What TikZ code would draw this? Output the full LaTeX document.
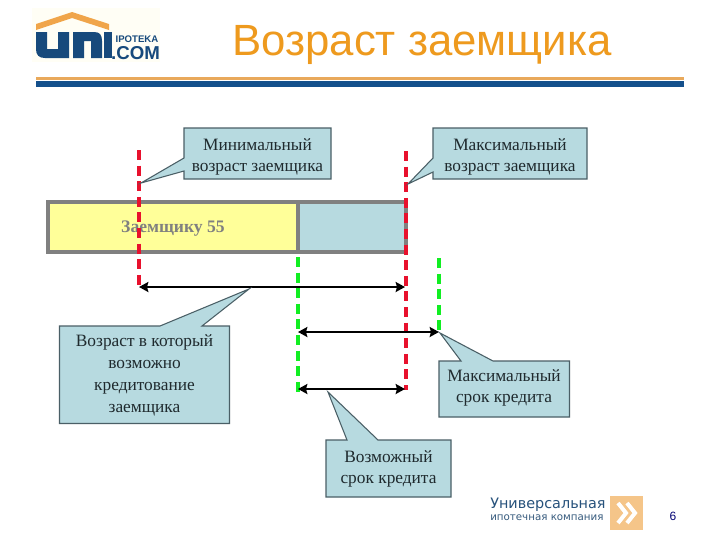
\documentclass[tikz,border=0pt]{standalone}
\usepackage{fontspec}
\setmainfont{Liberation Serif}
\newfontfamily\sansf{Liberation Sans}
\newfontfamily\logof{DejaVu Sans}
\usetikzlibrary{arrows.meta}
\definecolor{calloutfill}{HTML}{B7DAE0}
\definecolor{calloutedge}{HTML}{4A5F66}
\definecolor{barfill}{HTML}{FFFF99}
\definecolor{baredge}{HTML}{808080}
\definecolor{titlecol}{HTML}{EE9A1E}
\definecolor{rulenavy}{HTML}{14508C}
\definecolor{ruleorange}{HTML}{E9A95B}
\definecolor{logonavy}{HTML}{174A7C}
\definecolor{logoorange}{HTML}{F0A54A}
\definecolor{redline}{HTML}{E8112D}
\definecolor{greenline}{HTML}{11EE22}
\definecolor{texttone}{HTML}{1F2A2E}
\tikzset{
  tailbox/.style={fill=calloutfill,draw=calloutedge,line width=0.8pt,line join=miter},
  boxtext/.style={font=\fontsize{13}{15.75}\selectfont,text=texttone,align=center,inner sep=0pt},
  redguide/.style={draw=redline,line width=2.4pt,dash pattern=on 7.5pt off 4.2pt},
  greenguide/.style={draw=greenline,line width=2.4pt,dash pattern=on 7.5pt off 4.2pt},
  spanarrow/.style={draw=black,line width=2pt,>={Stealth[length=7pt,width=7.5pt,inset=1pt]}},
  barcell/.style={draw=baredge,line width=2.6pt},
}
\begin{document}
\begin{tikzpicture}[x=0.75pt,y=-0.75pt]
\useasboundingbox (0,0) rectangle (720,540);
\fill[white] (0,0) rectangle (720,540);
% logo
\fill[yellow!4!white] (32,8) rectangle (160,62);
\fill[logoorange] (36,24) -- (72,12) -- (109,24) -- (109,30) -- (72,18) -- (36,30) -- cycle;
\fill[logonavy] (36,32) -- (47,32) -- (47,49) -- (58,49) -- (58,32) -- (69,32) -- (69,58) -- (45,58) .. controls (39,58) and (36,55) .. (36,49) -- cycle;
\fill[logonavy] (73,58) -- (73,32) -- (94,32) .. controls (100,32) and (102,35) .. (102,41) -- (102,58) -- (91,58) -- (91,41) -- (84,41) -- (84,58) -- cycle;
\fill[logonavy] (104,32) rectangle (112,58);
\node[font=\sansf\bfseries\fontsize{7.2}{8}\selectfont,text=logonavy,inner sep=0pt] (ipoteka) at (137,39) {IPOTEKA};
\node[font=\sansf\bfseries\fontsize{14}{14}\selectfont,text=logonavy,inner sep=0pt] (comtext) at (135.5,53) {.COM};
% title
\node[font=\sansf\fontsize{32.8}{38}\selectfont,text=titlecol,inner sep=0pt] (title) at (422,45) {Возраст заемщика};
% rules
\fill[ruleorange] (36,77) rectangle (684,80);
\fill[rulenavy] (36,81) rectangle (684,87);
% bar
\draw[fill=barfill,barcell] (48,202) rectangle (298,252);
\draw[fill=calloutfill,barcell] (298,202) rectangle (406,252);
\node[font=\bfseries\fontsize{13.2}{15}\selectfont,text=baredge,inner sep=0pt] (barlabel) at (173,229) {Заемщику 55};
% guide ends
\coordinate (rA) at (139,150); \coordinate (rB) at (139,285);
\coordinate (rC) at (406,151); \coordinate (rD) at (406,390);
\coordinate (gA) at (298,257); \coordinate (gB) at (298,392);
\coordinate (gC) at (439,258); \coordinate (gD) at (439,332);
\draw[redguide] (rA) -- (rB);
\draw[greenguide] (gA) -- (gB);
\draw[greenguide] (gC) -- (gD);
\draw[redguide] (rC) -- (rD);
% arrows
\coordinate (a1) at (139,287); \coordinate (a2) at (405,287);
\coordinate (a3) at (298,332); \coordinate (a4) at (439,332);
\coordinate (a5) at (298,389); \coordinate (a6) at (405,389);
\draw[spanarrow,<->] (a1) -- (a2);
\draw[spanarrow,<->] (a3) -- (a4);
\draw[spanarrow,<->] (a5) -- (a6);
% callouts
\draw[tailbox] (184,128) -- (331,128) -- (331,179) -- (184,179) -- (184,171) -- (141,183) -- (184,158) -- cycle;
\node[boxtext] (minage) at (257.5,156.5) {Минимальный\\возраст заемщика};
\draw[tailbox] (433,128) -- (587,128) -- (587,179) -- (433,179) -- (433,172) -- (408,184) -- (433,158) -- cycle;
\node[boxtext] (maxage) at (510,156.5) {Максимальный\\возраст заемщика};
\draw[tailbox] (59.5,326) -- (160,326) -- (249,289) -- (202,326) -- (229.5,326) -- (229.5,423.5) -- (59.5,423.5) -- cycle;
\node[boxtext,font=\fontsize{13}{16.5}\selectfont] (agecredit) at (144.5,375.5) {Возраст в который\\возможно\\кредитование\\заемщика};
\draw[tailbox] (439,361) -- (461,361) -- (440,333) -- (493,361) -- (569.5,361) -- (569.5,417) -- (439,417) -- cycle;
\node[boxtext] (maxterm) at (504,388) {Максимальный\\срок кредита};
\draw[tailbox] (326,440) -- (347,440) -- (328,392) -- (378,440) -- (451,440) -- (451,497) -- (326,497) -- cycle;
\node[boxtext] (termok) at (388.5,468.5) {Возможный\\срок кредита};
% footer
\node[font=\logof\fontsize{10.8}{13}\selectfont,text=logonavy!85!gray,anchor=west,inner sep=0pt] (brandA) at (490,505) {Универсальная};
\node[font=\logof\fontsize{7.7}{10}\selectfont,text=logonavy!70!gray,anchor=west,inner sep=0pt] (brandB) at (490,518) {ипотечная компания};
\fill[logoorange!65!white] (610,496) rectangle (643,530);
\draw[white,line width=3pt,line join=miter] (618,503) -- (626,513) -- (618,523);
\draw[white,line width=3pt,line join=miter] (627,503) -- (635,513) -- (627,523);
\node[font=\sansf\fontsize{9}{11}\selectfont,text=blue!45!black,inner sep=0pt] (pageno) at (673,516) {6};
\end{tikzpicture}
\end{document}
